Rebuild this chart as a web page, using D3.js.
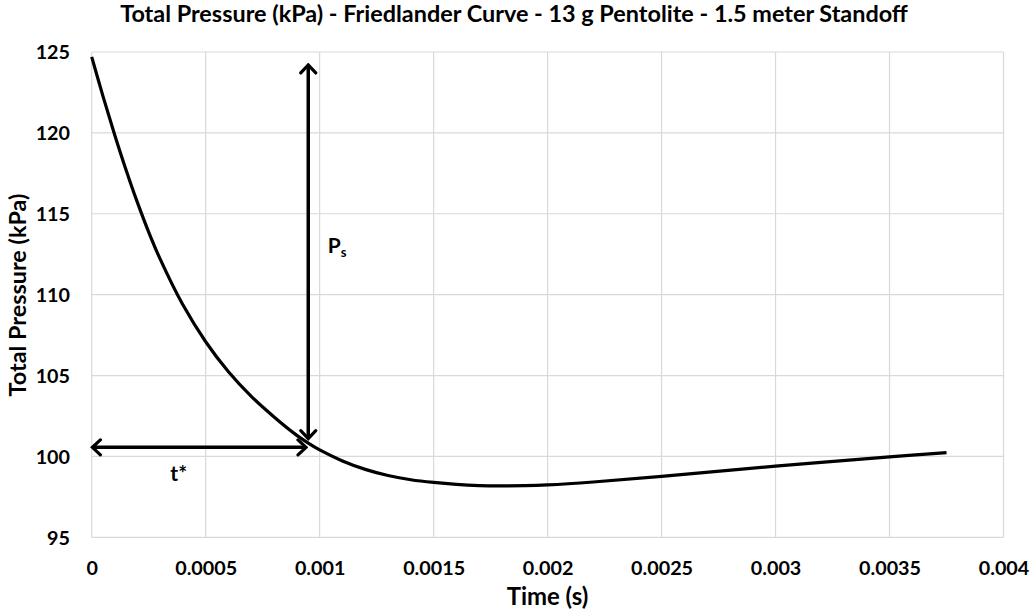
<!DOCTYPE html>
<html><head><meta charset="utf-8">
<script src="https://cdn.jsdelivr.net/npm/d3@7"></script>
<style>
html,body{margin:0;padding:0;background:#fff;}
svg{display:block;}
text{font-family:Lato,"Open Sans",sans-serif;font-weight:bold;fill:#000;}
</style></head>
<body><svg id="c" width="1032" height="615"></svg>
<script>
// ---- data ----
const time = [0, 0.00005, 0.0001, 0.00015, 0.0002, 0.00025, 0.0003, 0.0004, 0.0005, 0.0006, 0.0007, 0.0008, 0.0009, 0.00095, 0.001, 0.0011, 0.0012, 0.0013, 0.0014, 0.0015, 0.0016, 0.0017, 0.0018, 0.0019, 0.002, 0.0022, 0.0025, 0.003, 0.0035, 0.00375];
const pressure = [124.7, 122.24, 119.92, 117.74, 115.72, 113.87, 112.21, 109.37, 107.09, 105.23, 103.71, 102.44, 101.3, 100.82, 100.4, 99.72, 99.2, 98.82, 98.56, 98.39, 98.27, 98.2, 98.18, 98.19, 98.24, 98.42, 98.77, 99.4, 99.97, 100.23];
const xTicks = [0, 0.0005, 0.001, 0.0015, 0.002, 0.0025, 0.003, 0.0035, 0.004];
const xTickLabels = ["0", "0.0005", "0.001", "0.0015", "0.002", "0.0025", "0.003", "0.0035", "0.004"];
const yTicks = [95, 100, 105, 110, 115, 120, 125];
const yTickLabels = ["95", "100", "105", "110", "115", "120", "125"];
// annotations (data units)
const tStar = 0.00095;          // vertical arrow time
const psTop = 124.2, psBottom = 101.1;
const ambient = 100.56, hArrowStart = 0.000003, hArrowEnd = 0.00094;

const title = "Total Pressure (kPa) - Friedlander Curve - 13 g Pentolite - 1.5 meter Standoff";
const xTitle = "Time (s)", yTitle = "Total Pressure (kPa)";

const svg = d3.select("#c");
const L = 91.7, R = 1003.5, T = 52, B = 537.3;
const x = d3.scaleLinear().domain([0, 0.004]).range([L, R]);
const y = d3.scaleLinear().domain([95, 125]).range([B, T]);

function fitSize(str, target, base) {
  const t = svg.append("text").style("font-size", base + "px").text(str);
  const w = t.node().getComputedTextLength();
  t.remove();
  return base * target / w;
}

// gridlines
const grid = svg.append("g");
grid.selectAll("line.v").data(xTicks).join("line")
  .attr("x1", d => x(d)).attr("x2", d => x(d)).attr("y1", T).attr("y2", B)
  .attr("stroke", "#d9d9d9").attr("stroke-width", 1.2);
grid.selectAll("line.h").data(yTicks).join("line")
  .attr("y1", d => y(d)).attr("y2", d => y(d)).attr("x1", L).attr("x2", R)
  .attr("stroke", "#d9d9d9").attr("stroke-width", 1.2);

// tick labels
const tickSize = fitSize("0.0005", 62, 20);
const xAxis = d3.axisBottom(x).tickValues(xTicks).tickFormat((d, i) => xTickLabels[i]).tickSize(0).tickPadding(0);
const gx = svg.append("g").attr("transform", `translate(0,${B})`).call(xAxis);
gx.select(".domain").remove();
gx.selectAll("text").attr("y", 38).attr("dy", null).style("font-size", tickSize + "px")
  .style("font-family", "Lato, 'Open Sans', sans-serif").style("font-weight", "bold").attr("fill", "#000");

const yAxis = d3.axisLeft(y).tickValues(yTicks).tickFormat((d, i) => yTickLabels[i]).tickSize(0).tickPadding(0);
const gy = svg.append("g").attr("transform", `translate(70,0)`).call(yAxis);
gy.select(".domain").remove();
gy.selectAll("text").attr("x", 0).attr("dy", "0.35em").style("font-size", tickSize + "px")
  .style("font-family", "Lato, 'Open Sans', sans-serif").style("font-weight", "bold").attr("fill", "#000");

// curve
const pts = time.map((t, i) => [t, pressure[i]]);
svg.append("path").datum(pts)
  .attr("fill", "none").attr("stroke", "#000").attr("stroke-width", 3.2)
  .attr("d", d3.line().x(d => x(d[0])).y(d => y(d[1])).curve(d3.curveCatmullRom.alpha(0.5)));

// arrow marker
const defs = svg.append("defs");
defs.append("marker").attr("id", "arr").attr("markerUnits", "userSpaceOnUse")
  .attr("viewBox", "-12 -10 14 20").attr("markerWidth", 14).attr("markerHeight", 20)
  .attr("refX", 0).attr("refY", 0).attr("orient", "auto-start-reverse")
  .append("path").attr("d", "M-8,-7.5L0,0L-8,7.5").attr("fill", "none")
  .attr("stroke", "#000").attr("stroke-width", 3.2).attr("stroke-linecap", "round").attr("stroke-linejoin", "miter");

svg.append("line")
  .attr("x1", x(tStar)).attr("x2", x(tStar)).attr("y1", y(psBottom)).attr("y2", y(psTop))
  .attr("stroke", "#000").attr("stroke-width", 3.5)
  .attr("marker-start", "url(#arr)").attr("marker-end", "url(#arr)");
svg.append("line")
  .attr("x1", x(hArrowStart)).attr("x2", x(hArrowEnd)).attr("y1", y(ambient)).attr("y2", y(ambient))
  .attr("stroke", "#000").attr("stroke-width", 3.5)
  .attr("marker-start", "url(#arr)").attr("marker-end", "url(#arr)");

// annotation labels
const annSize = 21;
const ps = svg.append("text").attr("x", x(0.001036)).attr("y", y(112.57)).style("font-size", annSize + "px");
ps.append("tspan").text("P");
ps.append("tspan").text("s").attr("dy", 4).style("font-size", (annSize * 0.62) + "px");
svg.append("text").attr("x", x(0.000345)).attr("y", y(98.48)).style("font-size", annSize + "px").text("t*");

// titles
svg.append("text").attr("x", 514).attr("y", 21.5).attr("text-anchor", "middle")
  .style("font-size", fitSize(title, 788, 20) + "px").text(title);
svg.append("text").attr("x", 547.5).attr("y", 604.5).attr("text-anchor", "middle")
  .style("font-size", fitSize(xTitle, 81.6, 20) + "px").text(xTitle);
svg.append("text").attr("transform", "translate(26,295) rotate(-90)").attr("text-anchor", "middle")
  .style("font-size", fitSize(yTitle, 203, 20) + "px").text(yTitle);
</script></body></html>
